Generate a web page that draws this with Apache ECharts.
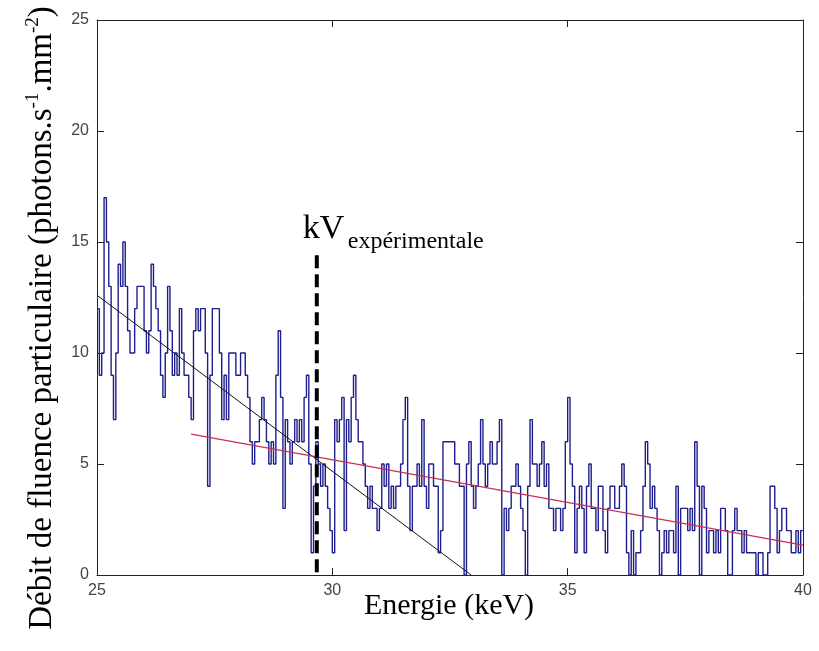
<!DOCTYPE html>
<html><head><meta charset="utf-8">
<script src="https://cdn.jsdelivr.net/npm/echarts@6/dist/echarts.min.js"></script>
<style>html,body{margin:0;padding:0;background:#fff}#c{width:819px;height:651px}</style>
</head><body><div id="c"></div>
<script>
// Energy bins (keV)
const binStart = 25;
const binWidth = 0.05;
// Photon fluence rate per bin
const counts = [
  12, 9, 10, 17, 15, 13, 9, 7, 10, 14,
  13, 15, 13, 11, 10, 10, 12, 13, 13, 13,
  11, 10, 11, 14, 13, 12, 11, 9, 8, 10,
  13, 11, 9, 10, 9, 12, 10, 9, 9, 8,
  7, 11, 12, 11, 12, 12, 10, 4, 9, 12,
  12, 12, 10, 7, 9, 7, 10, 10, 10, 9,
  9, 10, 10, 9, 8, 6, 5, 6, 6, 7,
  8, 7, 6, 5, 6, 5, 9, 11, 8, 3,
  7, 6, 5, 6, 7, 6, 7, 6, 8, 9,
  5, 1, 4, 6, 5, 4, 5, 4, 3, 2,
  1, 7, 6, 7, 8, 2, 7, 6, 8, 9,
  7, 6, 6, 5, 4, 3, 4, 3, 3, 2,
  3, 5, 4, 5, 3, 4, 3, 4, 4, 5,
  7, 8, 4, 2, 4, 4, 5, 4, 7, 4,
  3, 5, 5, 4, 4, 1, 2, 6, 6, 6,
  6, 6, 5, 5, 4, 4, 0, 5, 6, 4,
  3, 4, 5, 7, 5, 4, 5, 6, 5, 5,
  6, 7, 0, 3, 2, 3, 4, 4, 5, 4,
  3, 2, 0, 4, 7, 5, 5, 4, 5, 6,
  4, 5, 3, 3, 2, 3, 3, 2, 3, 6,
  8, 5, 4, 1, 3, 4, 3, 1, 4, 5,
  3, 3, 2, 4, 4, 2, 1, 3, 4, 4,
  3, 3, 4, 5, 4, 1, 0, 2, 0, 1,
  1, 2, 4, 6, 5, 3, 4, 3, 2, 0,
  1, 2, 1, 2, 2, 1, 4, 0, 3, 3,
  3, 2, 3, 2, 6, 4, 0, 4, 3, 1,
  2, 2, 1, 2, 1, 3, 3, 2, 0, 0,
  2, 3, 2, 2, 1, 2, 1, 1, 1, 1,
  0, 1, 1, 0, 0, 1, 4, 4, 3, 1,
  2, 3, 3, 2, 2, 1, 1, 2, 1, 2,
  2
];
// Linear fits (endpoints in keV, fluence)
const fitLow = [[25, 12.6], [32.95, 0]];
const fitHigh = [[27.0, 6.35], [40, 1.35]];
// Experimental kV marker
const kvExp = 29.67;
const kvTop = 14.4;
// Axis ranges / ticks
const xMin = 25, xMax = 40, xStep = 5;
const yMin = 0, yMax = 25, yStep = 5;

const spectrum = counts.map((v, i) => [binStart + i * binWidth, v]);

const chart = echarts.init(document.getElementById('c'), null, {renderer: 'canvas'});

const axisLineStyle = {color: '#222', width: 1};
const tickLabel = {fontSize: 16, color: '#444', fontFamily: 'Liberation Sans'};

chart.setOption({
  animation: false,
  backgroundColor: '#fff',
  grid: {left: 97, top: 20, width: 706, height: 555, containLabel: false},
  xAxis: [
    {type: 'value', min: xMin, max: xMax, interval: xStep, position: 'bottom',
     axisLine: {show: true, onZero: false, lineStyle: axisLineStyle},
     axisTick: {show: true, inside: true, length: 7, lineStyle: axisLineStyle},
     axisLabel: Object.assign({margin: 8}, tickLabel),
     splitLine: {show: false}},
    {type: 'value', min: xMin, max: xMax, interval: xStep, position: 'top',
     axisLine: {show: true, onZero: false, lineStyle: axisLineStyle},
     axisTick: {show: true, inside: true, length: 7, lineStyle: axisLineStyle},
     axisLabel: {show: false}, splitLine: {show: false}}
  ],
  yAxis: [
    {type: 'value', min: yMin, max: yMax, interval: yStep, position: 'left',
     axisLine: {show: true, onZero: false, lineStyle: axisLineStyle},
     axisTick: {show: true, inside: true, length: 7, lineStyle: axisLineStyle},
     axisLabel: Object.assign({margin: 8}, tickLabel),
     splitLine: {show: false}},
    {type: 'value', min: yMin, max: yMax, interval: yStep, position: 'right',
     axisLine: {show: true, onZero: false, lineStyle: axisLineStyle},
     axisTick: {show: true, inside: true, length: 7, lineStyle: axisLineStyle},
     axisLabel: {show: false}, splitLine: {show: false}}
  ],
  series: [
    {type: 'line', data: spectrum, step: 'end', showSymbol: false, symbol: 'none',
     lineStyle: {color: '#1e1e8e', width: 1.4}, z: 2},
    {type: 'line', data: fitLow, showSymbol: false, symbol: 'none',
     lineStyle: {color: '#111', width: 1}, z: 3},
    {type: 'line', data: fitHigh, showSymbol: false, symbol: 'none',
     lineStyle: {color: '#c8324e', width: 1.3}, z: 3},
    {type: 'line', data: [[kvExp, kvTop], [kvExp, 0]], showSymbol: false, symbol: 'none',
     lineStyle: {color: '#000', width: 4, type: [13, 6]}, z: 4}
  ]
});

const p = chart.convertToPixel({xAxisIndex: 0, yAxisIndex: 0}, [kvExp, kvTop]);
const serif = '"Liberation Serif", "Times New Roman", serif';
chart.setOption({
  graphic: [
    {type: 'text', x: p[0] - 14, y: p[1] - 26, z: 10,
     style: {text: 'kV', fontSize: 34, fontFamily: serif, fill: '#000',
             align: 'left', verticalAlign: 'middle', textAlign: 'left', textVerticalAlign: 'middle'}},
    {type: 'text', x: p[0] + 31, y: p[1] - 14, z: 10,
     style: {text: 'expérimentale', fontSize: 24, fontFamily: serif, fill: '#000',
             align: 'left', verticalAlign: 'middle', textAlign: 'left', textVerticalAlign: 'middle'}},
    {type: 'text', x: 449, y: 606, z: 10,
     style: {text: 'Energie (keV)', fontSize: 30, fontFamily: serif, fill: '#000',
             align: 'center', verticalAlign: 'middle', textAlign: 'center', textVerticalAlign: 'middle'}},
    {type: 'text', x: 42, y: 318, rotation: Math.PI / 2, z: 10,
     style: {text: '{n|Débit de fluence particulaire (photons.s}{s|-1}{n|.mm}{s|-2}{n|)}',
             align: 'center', verticalAlign: 'middle', textAlign: 'center', textVerticalAlign: 'middle',
             fill: '#000', fontFamily: serif, fontSize: 33,
             rich: {
               n: {fontSize: 33, fontFamily: serif, fill: '#000', lineHeight: 36},
               s: {fontSize: 19, fontFamily: serif, fill: '#000', verticalAlign: 'top', lineHeight: 36}
             }}}
  ]
});
</script>
</body></html>
